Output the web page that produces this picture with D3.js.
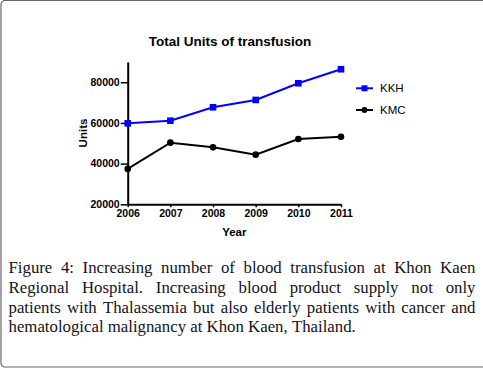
<!DOCTYPE html>
<html>
<head>
<meta charset="utf-8">
<script src="https://d3js.org/d3.v7.min.js"></script>
<style>
  body { margin: 0; background: #fff; }
</style>
</head>
<body>
<svg class="fig" width="483" height="370"></svg>
<script>
// data
var years = [2006, 2007, 2008, 2009, 2010, 2011];
var kkh = [59800, 61100, 67700, 71300, 79500, 86400];
var kmc = [37400, 50300, 48000, 44400, 52100, 53200];
var yTicks = [20000, 40000, 60000, 80000];
var seriesNames = ["KKH", "KMC"];

var captionLines = [
    "Figure 4: Increasing number of blood transfusion at Khon Kaen",
    "Regional Hospital. Increasing blood product supply not only",
    "patients with Thalassemia but also elderly patients with cancer and",
    "hematological malignancy at Khon Kaen, Thailand."
];

var svg = d3.select(".fig");

// outer frame (right side runs off the picture)
svg.append("rect")
    .attr("x", 1)
    .attr("y", 0.5)
    .attr("width", 492)
    .attr("height", 366.5)
    .attr("rx", 4)
    .attr("ry", 4)
    .attr("fill", "none")
    .attr("stroke", "#666")
    .attr("stroke-width", 1.2);

var sans = "Arial, 'Liberation Sans', sans-serif";

var x = d3.scaleLinear()
    .domain([2006, 2011])
    .range([127.7, 341]);

var y = d3.scaleLinear()
    .domain([20000, 90000])
    .range([204.3, 61.9]);

svg.append("text")
    .attr("x", 230)
    .attr("y", 46)
    .attr("text-anchor", "middle")
    .attr("font-family", sans)
    .attr("font-weight", "bold")
    .attr("font-size", "13.5px")
    .text("Total Units of transfusion");

// axes
var xAxis = svg.append("g")
    .attr("transform", "translate(0," + y(20000) + ")")
    .call(d3.axisBottom(x).tickValues(years).tickFormat(d3.format("d")).tickSize(3).tickSizeOuter(0).tickPadding(2));

var yAxis = svg.append("g")
    .attr("transform", "translate(" + x(2006) + ",0)")
    .call(d3.axisLeft(y).tickValues(yTicks).tickFormat(d3.format("d")).tickSize(7).tickSizeOuter(0).tickPadding(1));

[xAxis, yAxis].forEach(function (ax) {
    ax.select(".domain").attr("stroke", "#000").attr("stroke-width", 2);
    ax.selectAll(".tick line").attr("stroke", "#000").attr("stroke-width", 1.5);
    ax.selectAll(".tick text")
        .attr("fill", "#000")
        .attr("font-family", sans)
        .attr("font-weight", "bold")
        .attr("font-size", "10.5px");
});

svg.append("text")
    .attr("x", x(2008.5))
    .attr("y", 236)
    .attr("text-anchor", "middle")
    .attr("font-family", sans)
    .attr("font-weight", "bold")
    .attr("font-size", "11.5px")
    .text("Year");

svg.append("text")
    .attr("transform", "translate(87," + 133 + ") rotate(-90)")
    .attr("text-anchor", "middle")
    .attr("font-family", sans)
    .attr("font-weight", "bold")
    .attr("font-size", "11.5px")
    .text("Units");

// lines
var line = d3.line()
    .x(function (d, i) { return x(years[i]); })
    .y(function (d) { return y(d); });

svg.append("path")
    .datum(kmc)
    .attr("d", line)
    .attr("fill", "none")
    .attr("stroke", "#000")
    .attr("stroke-width", 2);

svg.append("path")
    .datum(kkh)
    .attr("d", line)
    .attr("fill", "none")
    .attr("stroke", "#0000ff")
    .attr("stroke-width", 2);

svg.selectAll(".kmcDot")
    .data(kmc)
    .enter().append("circle")
    .attr("class", "kmcDot")
    .attr("cx", function (d, i) { return x(years[i]); })
    .attr("cy", function (d) { return y(d); })
    .attr("r", 3.3)
    .attr("fill", "#000");

svg.selectAll(".kkhDot")
    .data(kkh)
    .enter().append("rect")
    .attr("class", "kkhDot")
    .attr("x", function (d, i) { return x(years[i]) - 3.3; })
    .attr("y", function (d) { return y(d) - 3.3; })
    .attr("width", 6.6)
    .attr("height", 6.6)
    .attr("fill", "#0000ff");

// legend
var legend = svg.append("g")
    .attr("transform", "translate(356, 88.3)");

var legendColors = ["#0000ff", "#000"];

legend.selectAll("line")
    .data(seriesNames).enter()
    .append("line")
    .attr("x1", 0)
    .attr("x2", 17)
    .attr("y1", function (d, i) { return i * 21.7; })
    .attr("y2", function (d, i) { return i * 21.7; })
    .attr("stroke", function (d, i) { return legendColors[i]; })
    .attr("stroke-width", 2);

legend.append("rect")
    .attr("x", 8.5 - 3)
    .attr("y", -3)
    .attr("width", 6)
    .attr("height", 6)
    .attr("fill", legendColors[0]);

legend.append("circle")
    .attr("cx", 8.5)
    .attr("cy", 21.7)
    .attr("r", 3)
    .attr("fill", legendColors[1]);

legend.selectAll("text")
    .data(seriesNames).enter()
    .append("text")
    .attr("x", 24)
    .attr("y", function (d, i) { return i * 21.7 + 4; })
    .attr("font-family", sans)
    .attr("font-size", "11.5px")
    .text(function (d) { return d; });

// caption, justified by hand
var serif = "'Liberation Serif', 'Times New Roman', serif";
var capLeft = 8.5, capRight = 475.5, capTop = 273, capStep = 19.8;

captionLines.forEach(function (lineText, li) {
    var words = lineText.split(" ");
    var g = svg.append("g");
    var nodes = words.map(function (w) {
        return g.append("text")
            .attr("y", capTop + li * capStep)
            .attr("font-family", serif)
            .attr("font-size", "16.8px")
            .attr("fill", "#141420")
            .text(w);
    });
    var widths = nodes.map(function (t) { return t.node().getComputedTextLength(); });
    var total = d3.sum(widths);
    var gap = 4.2;
    if (li < captionLines.length - 1) gap = (capRight - capLeft - total) / (words.length - 1);
    var pos = capLeft;
    nodes.forEach(function (t, i) {
        t.attr("x", pos);
        pos += widths[i] + gap;
    });
});
</script>
</body>
</html>
